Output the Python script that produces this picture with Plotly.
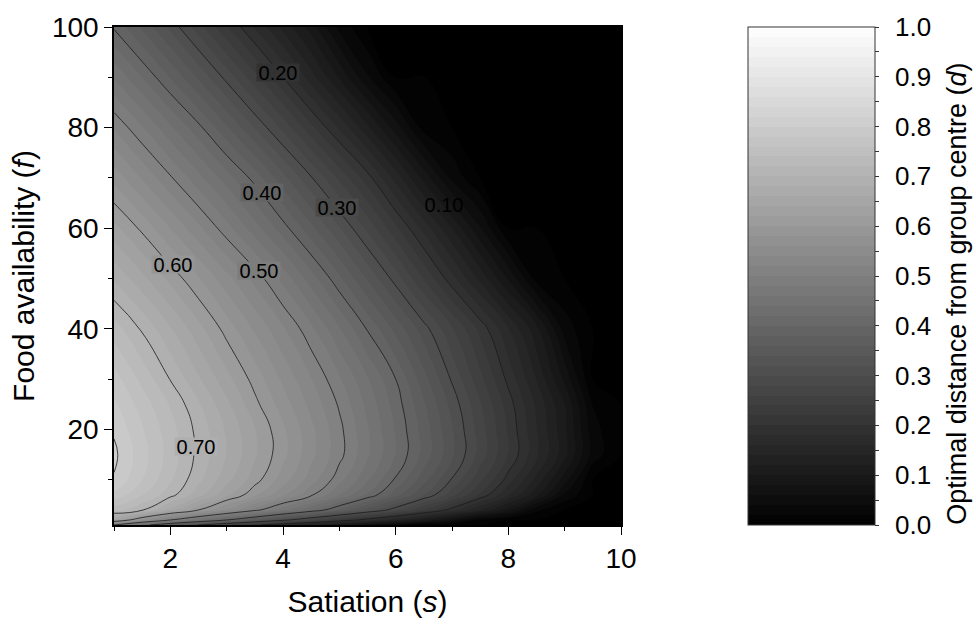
import plotly.graph_objects as go

# ---------------- data ----------------
satiation = [1.0, 1.5, 2.0, 2.5, 3.0, 3.5, 4.0, 4.5, 5.0, 5.5,
             6.0, 6.5, 7.0, 7.5, 8.0, 8.5, 9.0, 9.5, 10.0]
food = [1, 2, 4, 7, 10, 15, 20, 25, 30, 40, 50, 60, 70, 80, 90, 100]

# optimal distance d at each food row (values along satiation)
d_f001 = [0.500, 0.417, 0.356, 0.300, 0.255, 0.209, 0.171, 0.136, 0.100, 0.067, 0.033, 0, 0, 0, 0, 0, 0, 0, 0]
d_f002 = [0.640, 0.567, 0.500, 0.450, 0.400, 0.355, 0.309, 0.267, 0.225, 0.185, 0.146, 0.108, 0.064, 0.018, 0, 0, 0, 0, 0]
d_f004 = [0.730, 0.703, 0.653, 0.600, 0.555, 0.509, 0.465, 0.422, 0.377, 0.332, 0.286, 0.238, 0.190, 0.140, 0.088, 0.025, 0, 0, 0]
d_f007 = [0.775, 0.741, 0.708, 0.668, 0.625, 0.584, 0.544, 0.504, 0.460, 0.416, 0.369, 0.320, 0.268, 0.216, 0.161, 0.106, 0.036, 0, 0]
d_f010 = [0.798, 0.760, 0.723, 0.685, 0.647, 0.609, 0.570, 0.530, 0.488, 0.443, 0.397, 0.348, 0.298, 0.245, 0.191, 0.134, 0.069, 0, 0]
d_f015 = [0.805, 0.768, 0.731, 0.694, 0.659, 0.623, 0.586, 0.546, 0.507, 0.464, 0.419, 0.373, 0.324, 0.272, 0.219, 0.164, 0.107, 0.031, 0]
d_f020 = [0.797, 0.762, 0.728, 0.693, 0.657, 0.621, 0.584, 0.545, 0.506, 0.462, 0.418, 0.371, 0.322, 0.270, 0.217, 0.161, 0.105, 0.028, 0]
d_f025 = [0.784, 0.751, 0.718, 0.683, 0.645, 0.606, 0.570, 0.534, 0.497, 0.454, 0.411, 0.363, 0.313, 0.262, 0.210, 0.156, 0.100, 0.019, 0]
d_f030 = [0.769, 0.734, 0.699, 0.663, 0.627, 0.592, 0.556, 0.521, 0.483, 0.442, 0.400, 0.348, 0.297, 0.246, 0.194, 0.139, 0.075, 0, 0]
d_f040 = [0.730, 0.697, 0.662, 0.627, 0.592, 0.557, 0.523, 0.485, 0.442, 0.398, 0.354, 0.309, 0.262, 0.214, 0.161, 0.106, 0.031, 0, 0]
d_f050 = [0.677, 0.646, 0.614, 0.582, 0.547, 0.513, 0.473, 0.430, 0.385, 0.338, 0.291, 0.239, 0.187, 0.135, 0.078, 0.013, 0, 0, 0]
d_f060 = [0.627, 0.595, 0.560, 0.525, 0.488, 0.449, 0.409, 0.366, 0.322, 0.275, 0.225, 0.173, 0.120, 0.062, 0, 0, 0, 0, 0]
d_f070 = [0.573, 0.538, 0.503, 0.467, 0.430, 0.392, 0.347, 0.302, 0.256, 0.209, 0.152, 0.093, 0.035, 0, 0, 0, 0, 0, 0]
d_f080 = [0.518, 0.482, 0.444, 0.406, 0.363, 0.319, 0.274, 0.226, 0.177, 0.125, 0.070, 0.012, 0, 0, 0, 0, 0, 0, 0]
d_f090 = [0.458, 0.420, 0.379, 0.337, 0.293, 0.247, 0.200, 0.149, 0.098, 0.043, 0, 0, 0, 0, 0, 0, 0, 0, 0]
d_f100 = [0.397, 0.356, 0.314, 0.269, 0.222, 0.177, 0.135, 0.091, 0.034, 0, 0, 0, 0, 0, 0, 0, 0, 0, 0]

d_grid = [d_f001, d_f002, d_f004, d_f007, d_f010, d_f015, d_f020, d_f025,
          d_f030, d_f040, d_f050, d_f060, d_f070, d_f080, d_f090, d_f100]

# contour labels as placed in the reference
label_level = [0.20, 0.40, 0.30, 0.10, 0.60, 0.50, 0.70]
label_s = [3.91, 3.62, 4.96, 6.85, 2.04, 3.57, 2.45]
label_f = [91.0, 67.1, 64.2, 64.8, 52.7, 51.5, 16.6]

cbar_ticks = [0.0, 0.1, 0.2, 0.3, 0.4, 0.5, 0.6, 0.7, 0.8, 0.9, 1.0]
cbar_minor = [0.05, 0.15, 0.25, 0.35, 0.45, 0.55, 0.65, 0.75, 0.85, 0.95]
cbar_lines = [0.1, 0.2, 0.3, 0.4, 0.5, 0.6, 0.7, 0.8, 0.9]
cbar_title = "Optimal distance from group centre (<i>d</i>)"

# ---------------- styling ----------------
FONT = "Liberation Sans, Arial, sans-serif"
W, H = 976, 625
ML, MR, MT, MB = 114, 355, 24, 95
plot_w = W - ML - MR
plot_h = H - MT - MB
cb_left_px = 748
cb_thick = 127
cb_x = (cb_left_px - ML) / plot_w
cb_label_x = (893 - ML) / plot_w
cb_title_x = (957 - ML) / plot_w
cb_title_y = (H - MB - 295) / plot_h


def grey(level):
    g = int(round(level / 1.02 * 255))
    return "rgb(%d,%d,%d)" % (g, g, g)


fig = go.Figure()

fig.add_trace(go.Contour(
    x=satiation, y=food, z=d_grid,
    colorscale=[[0, "#000000"], [1, "#ffffff"]],
    zmin=0, zmax=1,
    autocontour=False,
    contours=dict(start=0, end=1, size=0.02, coloring="fill", showlines=False),
    line=dict(width=0, smoothing=1.3),
    colorbar=dict(
        thickness=cb_thick, thicknessmode="pixels",
        len=1, lenmode="fraction",
        x=cb_x, xanchor="left", xpad=0,
        y=0.5, yanchor="middle", ypad=0,
        outlinewidth=1, outlinecolor="#333333",
        tickmode="array", tickvals=cbar_ticks + cbar_minor,
        showticklabels=False,
        ticks="outside", ticklen=4, tickcolor="#333333",
    ),
    hoverinfo="skip",
))

fig.add_trace(go.Contour(
    x=satiation, y=food, z=d_grid,
    autocontour=False,
    contours=dict(start=0.1, end=0.8, size=0.1, coloring="none", showlabels=False),
    line=dict(color="#1a1a1a", width=0.8, smoothing=1.3),
    showscale=False,
    hoverinfo="skip",
))

annotations = []
for lv, sx, fy in zip(label_level, label_s, label_f):
    # gentle gradients: a small box matching the fill breaks the line like the original
    bg = grey(lv) if lv >= 0.2 else "rgba(0,0,0,0)"
    annotations.append(dict(
        x=sx, y=fy, xref="x", yref="y", text="%.2f" % lv, showarrow=False,
        font=dict(family=FONT, size=20, color="#000000"),
        bgcolor=bg, borderpad=0, width=42, height=17, valign="middle",
    ))

for v in cbar_ticks:
    annotations.append(dict(
        x=cb_label_x, y=v, xref="paper", yref="paper", text="%.1f" % v,
        showarrow=False, xanchor="left", yanchor="middle",
        font=dict(family=FONT, size=26, color="#000000"),
    ))

annotations.append(dict(
    x=cb_title_x, y=cb_title_y, xref="paper", yref="paper", text=cbar_title,
    showarrow=False, textangle=-90, xanchor="center", yanchor="middle",
    font=dict(family=FONT, size=27, color="#000000"),
))

shapes = []
for lv in cbar_lines:
    shapes.append(dict(type="line", xref="paper", yref="paper",
                       x0=cb_x, x1=cb_x + cb_thick / plot_w, y0=lv, y1=lv,
                       line=dict(color="#1a1a1a", width=1)))

axis_common = dict(
    showline=True, linecolor="#000000", linewidth=1.5, mirror=True,
    showgrid=False, zeroline=False,
    ticks="outside", ticklen=8, tickwidth=1.2, tickcolor="#000000",
    tickfont=dict(family=FONT, size=28, color="#000000"),
)

fig.update_layout(
    width=W, height=H,
    margin=dict(l=ML, r=MR, t=MT, b=MB),
    paper_bgcolor="#ffffff", plot_bgcolor="#ffffff",
    font=dict(family=FONT, color="#000000"),
    shapes=shapes,
    annotations=annotations,
    xaxis=dict(range=[1, 10], tick0=0, dtick=2,
               minor=dict(dtick=1, tick0=0, ticks="outside", ticklen=4, tickcolor="#000000"),
               title=dict(text="Satiation (<i>s</i>)", font=dict(family=FONT, size=30), standoff=18),
               **axis_common),
    yaxis=dict(range=[1, 100], tick0=0, dtick=20,
               minor=dict(dtick=10, tick0=0, ticks="outside", ticklen=4, tickcolor="#000000"),
               title=dict(text="Food availability (<i>f</i>)", font=dict(family=FONT, size=30), standoff=8),
               **axis_common),
)

fig.write_html("out.html")
